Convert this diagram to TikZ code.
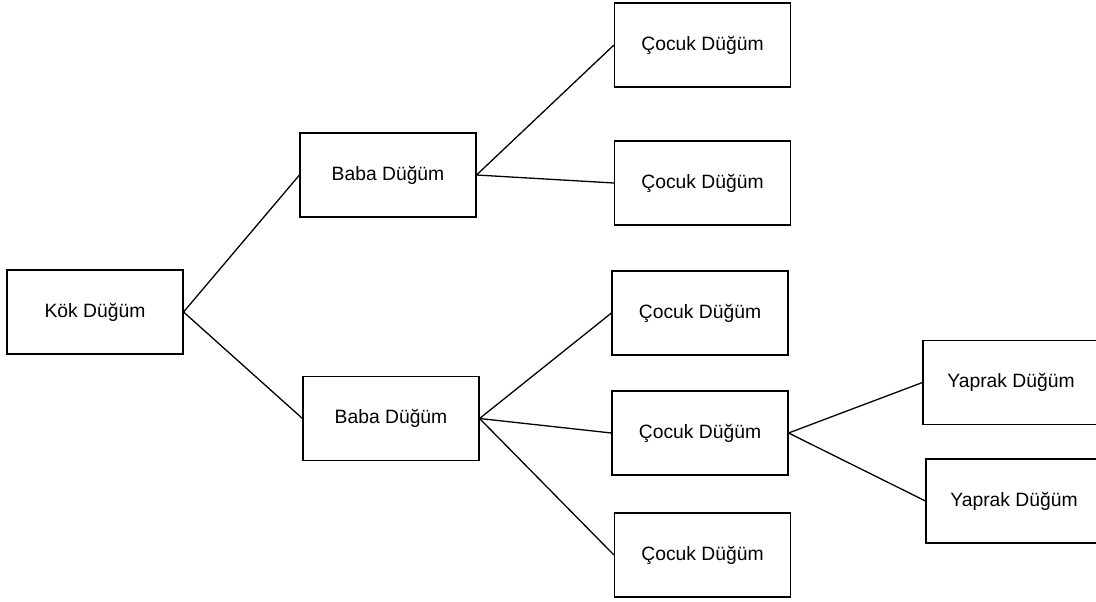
\documentclass[tikz,border=0pt]{standalone}
\usepackage{fontspec}
\setmainfont{Liberation Sans}
\begin{document}
\begin{tikzpicture}[x=1pt,y=-1pt,
  nodebox/.style={draw=black, line width=1.1pt, rectangle, minimum width=176pt,
    minimum height=84pt, inner sep=0pt, font=\fontsize{19.3}{23}\selectfont},
  link/.style={draw=black, line width=1.3pt}]
\useasboundingbox (0,0) rectangle (1096,602);

% tree nodes
\node[nodebox] (kok)   at (95,312)    {Kök Düğüm};
\node[nodebox] (baba1) at (388,175)   {Baba Düğüm};
\node[nodebox] (baba2) at (391,418.5) {Baba Düğüm};
\node[nodebox] (c1)    at (702.5,45)  {Çocuk Düğüm};
\node[nodebox] (c2)    at (702.5,183) {Çocuk Düğüm};
\node[nodebox] (c3)    at (700,313)   {Çocuk Düğüm};
\node[nodebox] (c4)    at (700,433)   {Çocuk Düğüm};
\node[nodebox] (c5)    at (702.5,555) {Çocuk Düğüm};
\node[nodebox] (y1)    at (1011,382.5) {Yaprak Düğüm};
\node[nodebox] (y2)    at (1014,501)  {Yaprak Düğüm};

% edges
\draw[link] (kok.east) -- (baba1.west);
\draw[link] (kok.east) -- (baba2.west);
\draw[link] (baba1.east) -- (c1.west);
\draw[link] (baba1.east) -- (c2.west);
\draw[link] (baba2.east) -- (c3.west);
\draw[link] (baba2.east) -- (c4.west);
\draw[link] (baba2.east) -- (c5.west);
\draw[link] (c4.east) -- (y1.west);
\draw[link] (c4.east) -- (y2.west);
\end{tikzpicture}
\end{document}
